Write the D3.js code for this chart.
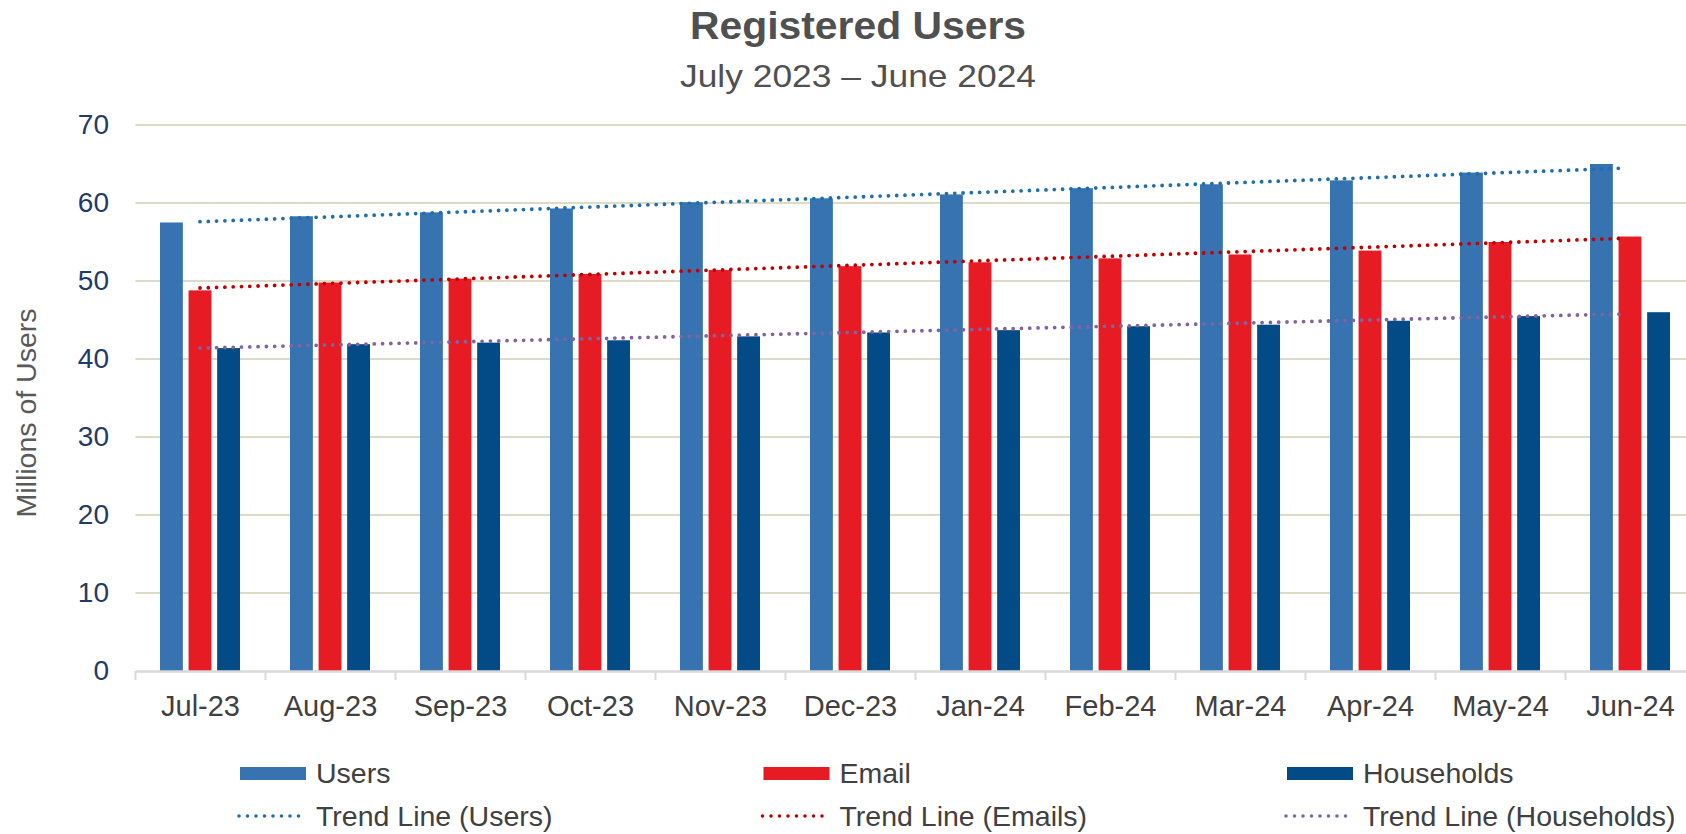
<!DOCTYPE html>
<html>
<head>
<meta charset="utf-8">
<script src="https://cdn.jsdelivr.net/npm/d3@7"></script>
<style>
  html, body { margin: 0; padding: 0; background: #fff; overflow: hidden; }
  svg { display: block; font-family: "Liberation Sans", Arial, sans-serif; }
</style>
</head>
<body>
<svg id="chart" width="1686" height="834"></svg>
<script>
// ---- data ----
const months = ["Jul-23","Aug-23","Sep-23","Oct-23","Nov-23","Dec-23","Jan-24","Feb-24","Mar-24","Apr-24","May-24","Jun-24"];
const users      = [57.5, 58.3, 58.8, 59.3, 60.1, 60.6, 61.1, 61.9, 62.4, 62.9, 63.9, 65.0];
const email      = [48.8, 49.8, 50.3, 50.9, 51.4, 51.9, 52.4, 52.9, 53.4, 53.9, 55.0, 55.7];
const households = [41.4, 41.9, 42.1, 42.4, 42.9, 43.4, 43.7, 44.2, 44.4, 44.9, 45.5, 46.0];
// trend lines: start (Jul-23) and end (Jun-24) values
const trendUsers      = [57.6, 64.5];
const trendEmails     = [49.1, 55.5];
const trendHouseholds = [41.4, 45.8];
const yTicks = [0, 10, 20, 30, 40, 50, 60, 70];
const seriesNames = ["Users", "Email", "Households"];
const trendNames = ["Trend Line (Users)", "Trend Line (Emails)", "Trend Line (Households)"];

// ---- styles ----
const barColors = {"Users": "#3773B0", "Email": "#E61B24", "Households": "#024B87"};
const trendColors = ["#1F6FAA", "#C00000", "#8064A2"];

const svg = d3.select("#chart");
const W = 1686, H = 834;

const x = d3.scaleBand().domain(months).range([135.5, 1695.5]).paddingInner(0).paddingOuter(0);
const xSub = d3.scaleBand().domain(seriesNames).range([24.5, 104.5]).paddingInner(0.2);
const y = d3.scaleLinear().domain([0, 70]).range([671, 125]);

// gridlines
svg.append("g").selectAll("line").data(yTicks.filter(d => d > 0)).join("line")
  .attr("x1", 135.5).attr("x2", W)
  .attr("y1", d => y(d)).attr("y2", d => y(d))
  .attr("stroke", "#DDDAC6").attr("stroke-width", 2);

// y axis labels
const yAxis = d3.axisLeft(y).tickValues(yTicks).tickSize(0).tickPadding(0);
const gy = svg.append("g").attr("transform", "translate(109,0)").call(yAxis);
gy.select(".domain").remove();
gy.selectAll("text").attr("font-size", 28).attr("fill", "#1F3B66")
  .attr("font-family", "'Liberation Sans', Arial, sans-serif");

// bars
const data = months.map((m, i) => ({m, vals: [["Users", users[i]], ["Email", email[i]], ["Households", households[i]]]}));
const groups = svg.append("g").selectAll("g").data(data).join("g")
  .attr("transform", d => `translate(${x(d.m)},0)`);
groups.selectAll("rect").data(d => d.vals).join("rect")
  .attr("x", d => xSub(d[0])).attr("width", xSub.bandwidth())
  .attr("y", d => y(d[1])).attr("height", d => y(0) - y(d[1]))
  .attr("fill", d => barColors[d[0]]);

// x axis
const xAxis = d3.axisBottom(x).tickSize(0).tickPadding(0);
const gx = svg.append("g").attr("transform", `translate(0,${y(0)})`).call(xAxis);
gx.select(".domain").attr("stroke", "#D9D9D9").attr("stroke-width", 2.5);
gx.selectAll("text").attr("font-size", 29).attr("fill", "#404040").attr("dy", 0).attr("y", 45)
  .attr("font-family", "'Liberation Sans', Arial, sans-serif");
// tick marks at band boundaries
svg.append("g").selectAll("line").data(months).join("line")
  .attr("x1", d => x(d)).attr("x2", d => x(d))
  .attr("y1", y(0)).attr("y2", y(0) + 9)
  .attr("stroke", "#D9D9D9").attr("stroke-width", 2);

// trend lines
const trends = [trendUsers, trendEmails, trendHouseholds];
const cx = m => x(m) + (xSub.range()[0] + xSub.range()[1]) / 2;
trends.forEach((t, i) => {
  svg.append("line")
    .attr("x1", cx(months[0])).attr("x2", cx(months[months.length - 1]) - 6)
    .attr("y1", y(t[0])).attr("y2", y(t[0] + (t[1] - t[0]) * (1 - 6 / (cx(months[11]) - cx(months[0])))))
    .attr("stroke", trendColors[i]).attr("stroke-width", 3.8)
    .attr("stroke-linecap", "round").attr("stroke-dasharray", "0,8.3");
});

// title
svg.append("text").attr("x", 858).attr("y", 39).attr("text-anchor", "middle")
  .attr("font-size", 38).attr("font-weight", "bold").attr("fill", "#505050")
  .attr("textLength", 336).attr("lengthAdjust", "spacingAndGlyphs")
  .text("Registered Users");
svg.append("text").attr("x", 858).attr("y", 87).attr("text-anchor", "middle")
  .attr("font-size", 32).attr("fill", "#505050")
  .attr("textLength", 356).attr("lengthAdjust", "spacingAndGlyphs")
  .text("July 2023 \u2013 June 2024");

// y axis title
svg.append("text").attr("transform", "translate(36,413) rotate(-90)")
  .attr("text-anchor", "middle").attr("font-size", 28.5).attr("fill", "#595959")
  .text("Millions of Users");

// legend
const legX = [240, 763.5, 1287];
const leg = svg.append("g");
seriesNames.forEach((s, i) => {
  leg.append("rect").attr("x", legX[i]).attr("y", 767).attr("width", 66).attr("height", 13)
    .attr("fill", barColors[s]);
  leg.append("text").attr("x", legX[i] + 76).attr("y", 783).attr("font-size", 28.5)
    .attr("fill", "#404040").text(s);
});
trendNames.forEach((s, i) => {
  leg.append("line").attr("x1", legX[i] - 1).attr("x2", legX[i] + 67)
    .attr("y1", 816).attr("y2", 816)
    .attr("stroke", trendColors[i]).attr("stroke-width", 3.6)
    .attr("stroke-linecap", "round").attr("stroke-dasharray", "0,8.5");
  leg.append("text").attr("x", legX[i] + 76).attr("y", 826).attr("font-size", 28.5)
    .attr("fill", "#404040").text(s);
});
</script>
</body>
</html>
